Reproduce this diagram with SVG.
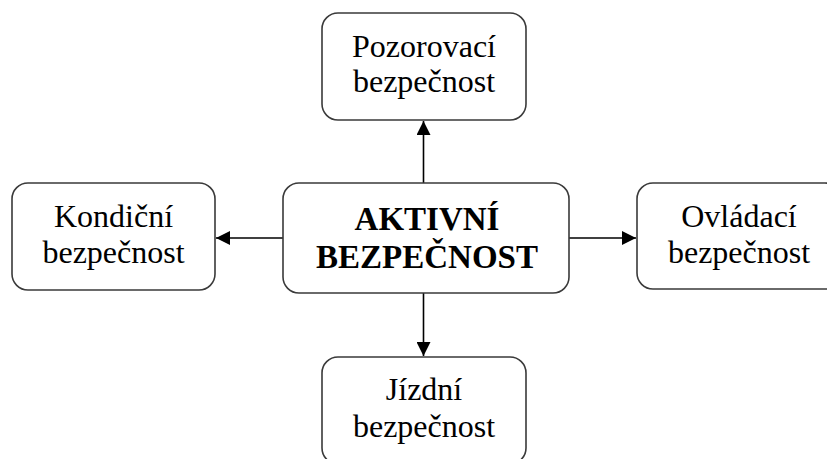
<svg xmlns="http://www.w3.org/2000/svg" width="827" height="459" viewBox="0 0 827 459">
<defs>
<marker id="ah" markerUnits="userSpaceOnUse" markerWidth="14" markerHeight="14" viewBox="0 0 14 14" refX="14" refY="7" orient="auto">
<path d="M0,0 L14,7 L0,14 Z" fill="#000"/>
</marker>
</defs>
<style>
.box{fill:#fff;stroke:#3a3a3a;stroke-width:1.6}
.t{font-family:"Liberation Serif","Times New Roman",serif;font-size:32px;fill:#000;text-anchor:middle}
.b{font-family:"Liberation Serif","Times New Roman",serif;font-size:33px;font-weight:bold;fill:#000;text-anchor:middle}
.c{stroke:#000;stroke-width:1.6;fill:none;marker-end:url(#ah)}
</style>
<rect width="827" height="459" fill="#fff"/>
<g id="connectors">
<line class="c" x1="423.5" y1="183" x2="423.5" y2="121"/>
<line class="c" x1="283" y1="238" x2="216" y2="238"/>
<line class="c" x1="569" y1="238" x2="636" y2="238"/>
<line class="c" x1="423.5" y1="293" x2="423.5" y2="356"/>
</g>
<g id="pozorovaci">
<rect class="box" x="322" y="13" width="204" height="107" rx="16"/>
<text class="t" x="424" y="57">Pozorovací</text>
<text class="t" x="424" y="92">bezpečnost</text>
</g>
<g id="aktivni">
<rect class="box" x="283" y="183" width="286" height="110" rx="16"/>
<text class="b" x="427" y="230">AKTIVNÍ</text>
<text class="b" x="427" y="268">BEZPEČNOST</text>
</g>
<g id="kondicni">
<rect class="box" x="12" y="183" width="203" height="107" rx="16"/>
<text class="t" x="113.5" y="227">Kondiční</text>
<text class="t" x="113.5" y="263">bezpečnost</text>
</g>
<g id="ovladaci">
<rect class="box" x="637" y="183" width="204" height="106" rx="16"/>
<text class="t" x="739" y="227">Ovládací</text>
<text class="t" x="739" y="263">bezpečnost</text>
</g>
<g id="jizdni">
<rect class="box" x="322" y="357" width="204" height="107" rx="16"/>
<text class="t" x="424" y="400">Jízdní</text>
<text class="t" x="424" y="437">bezpečnost</text>
</g>
</svg>
